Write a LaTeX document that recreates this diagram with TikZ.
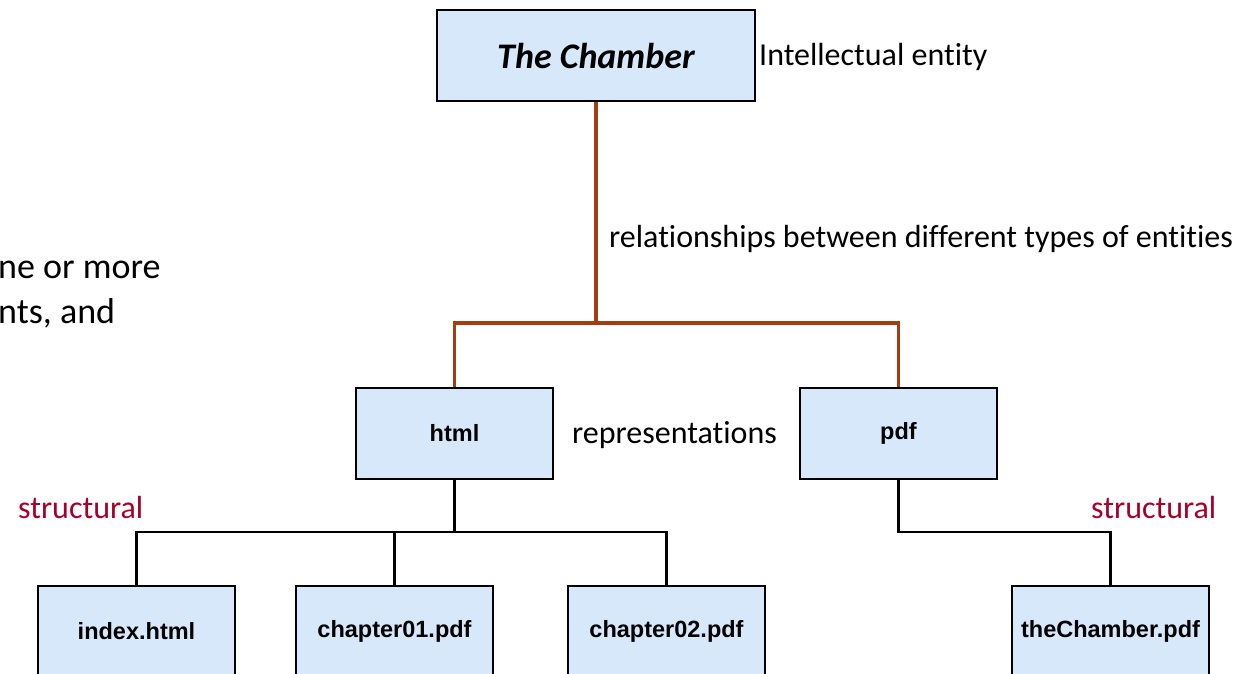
\documentclass[tikz,border=0pt]{standalone}
\usepackage{fontspec}
\setmainfont{Carlito}[Ligatures=NoCommon]
\newfontfamily\boxfont{Liberation Sans}
\definecolor{boxblue}{RGB}{216,232,251}
\definecolor{relbrown}{RGB}{163,62,16}
\definecolor{structred}{RGB}{166,0,40}

\begin{document}
\begin{tikzpicture}[x=1pt, y=-1pt]
	\tikzstyle{entity} = [rectangle,draw=black,line width=2pt,fill=boxblue,minimum width=197pt,minimum height=91pt,inner sep=0pt]
	\tikzstyle{file} = [font=\boxfont\bfseries\fontsize{23.5}{28}\selectfont]
	\tikzstyle{note} = [font=\fontsize{32}{38}\selectfont,inner sep=0pt,anchor=base west]
	\tikzstyle{rel} = [draw=relbrown,line width=3.2pt]
	\tikzstyle{struct} = [draw=black,line width=2.2pt]
	\clip (0,0) rectangle (1243,673);
	% entity boxes
	\node[entity,minimum width=318pt,font=\bfseries\itshape\fontsize{36}{43}\selectfont](chamber)at (596,55.5){The Chamber};
	\node[entity,file](html)at (454.5,433.5){html};
	\node[entity,file](pdf)at (898.5,433.5){pdf};
	\node[entity,file](index)at (136.5,631.5){index.html};
	\node[entity,file](chapA)at (394.5,631.5){chapter01.pdf};
	\node[entity,file](chapB)at (666.5,631.5){chapter02.pdf};
	\node[entity,file](whole)at (1110.5,631.5){theChamber.pdf};
	% notes
	\node[note](intent)at (759,65){Intellectual entity};
	\node[note](relations)at (609,247){relationships between different types of entities};
	\node[note](repr)at (572,443){representations};
	\node[note,text=structred](structL)at (18,518){structural};
	\node[note,text=structred](structR)at (1091,518){structural};
	\node[note,font=\fontsize{36}{44}\selectfont](leftA)at (-2,278){ne or more};
	\node[note,font=\fontsize{36}{44}\selectfont](leftB)at (-2,323){nts, and};
	% connectors
	\coordinate (relfork) at (596,323);
	\coordinate (htmlfork) at (454.5,532);
	\coordinate (pdffork) at (898.5,532);
	\draw[rel] (chamber.south) -- (relfork);
	\draw[rel] (html.north) |- (relfork) -| (pdf.north);
	\draw[struct] (html.south) -- (htmlfork);
	\draw[struct] (index.north) |- (htmlfork) -| (chapB.north);
	\draw[struct] (chapA.north) -- (chapA.north |- htmlfork);
	\draw[struct] (pdf.south) -- (pdffork) -| (whole.north);
\end{tikzpicture}
\end{document}
